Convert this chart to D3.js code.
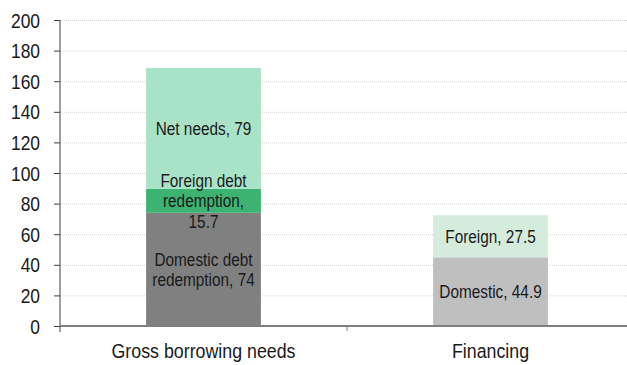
<!DOCTYPE html>
<html>
<head>
<meta charset="utf-8">
<script src="https://cdn.jsdelivr.net/npm/d3@7"></script>
<style>
  body { margin: 0; background: #fff; }
  svg text { font-family: "Liberation Sans", Arial, sans-serif; fill: #1a1a1a; }
</style>
</head>
<body>
<script>
// categories and stacked segments (bottom to top)
var categories = ["Gross borrowing needs", "Financing"];
var grossValues = [74, 15.7, 79];
var grossLabels = [["Domestic debt", "redemption, 74"], ["Foreign debt", "redemption,", "15.7"], ["Net needs, 79"]];
var grossColors = ["#808080", "#3cb371", "#a8e2c7"];
var finValues = [44.9, 27.5];
var finLabels = [["Domestic, 44.9"], ["Foreign, 27.5"]];
var finColors = ["#bfbfbf", "#d5ecdd"];
var yTicks = [0, 20, 40, 60, 80, 100, 120, 140, 160, 180, 200];

var width = 627, height = 365;
var margin = {top: 20, left: 60, bottom: 39};

var svg = d3.select("body").append("svg")
            .attr("width", width)
            .attr("height", height);

var y = d3.scaleLinear().domain([0, 200]).range([height - margin.bottom, margin.top]);
var x = d3.scaleBand().domain(categories).range([margin.left, 634])
          .paddingInner(0.6).paddingOuter(0.3);

// squeeze text horizontally to mimic the narrow font of the original
function narrow(sel, cx, cy, k){
  sel.attr("transform", "translate(" + cx + "," + cy + ") scale(" + k + ",1)");
}

// gridlines
svg.append("g").selectAll("line")
   .data(yTicks.slice(1))
   .enter().append("line")
     .attr("x1", margin.left).attr("x2", width)
     .attr("y1", function(d){ return y(d) + 0.5; })
     .attr("y2", function(d){ return y(d) + 0.5; })
     .attr("stroke", "#d4d4d4")
     .attr("stroke-dasharray", "1,1");

// build stacked segments
var segs = [];
function addStack(cat, vals, labels, colors){
  var base = 0;
  vals.forEach(function(v, i){
    segs.push({cat: cat, y0: base, y1: base + v, label: labels[i], color: colors[i]});
    base += v;
  });
}
addStack(categories[0], grossValues, grossLabels, grossColors);
addStack(categories[1], finValues, finLabels, finColors);

svg.append("g").selectAll("rect")
   .data(segs)
   .enter().append("rect")
     .attr("x", function(d){ return x(d.cat); })
     .attr("width", x.bandwidth())
     .attr("y", function(d){ return y(d.y1); })
     .attr("height", function(d){ return y(d.y0) - y(d.y1); })
     .attr("fill", function(d){ return d.color; });

// segment labels
var lh = 20.5;
svg.append("g").selectAll("text")
   .data(segs)
   .enter().append("text")
     .attr("text-anchor", "middle")
     .attr("font-size", "18.5px")
     .each(function(d){
        var cy = (y(d.y0) + y(d.y1)) / 2;
        var n = d.label.length;
        var t = d3.select(this);
        narrow(t, x(d.cat) + x.bandwidth() / 2, cy, 0.83);
        d.label.forEach(function(s, i){
          t.append("tspan")
           .attr("x", 0)
           .attr("y", (i - (n - 1) / 2) * lh + 6.5)
           .text(s);
        });
     });

// y axis
var yAxis = svg.append("g")
   .attr("transform", "translate(" + margin.left + ",0)")
   .call(d3.axisLeft(y).tickValues(yTicks).tickSize(6).tickPadding(0));
yAxis.select(".domain").attr("stroke", "#404040").attr("d", "M0," + y(200) + "V" + (y(0) + 6));
yAxis.selectAll(".tick line").attr("stroke", "#404040");
yAxis.selectAll(".tick text")
     .attr("font-size", "20px").attr("font-family", null)
     .attr("x", 0).attr("dy", "0.35em")
     .attr("transform", "translate(-20,0) scale(0.87,1)");

// x axis
var xg = svg.append("g").attr("transform", "translate(0," + y(0) + ")");
xg.append("line").attr("x1", margin.left).attr("x2", width)
  .attr("stroke", "#7f7f7f").attr("stroke-width", 2);
xg.selectAll(".sep")
  .data([x(categories[1]) - x.step() * x.paddingInner() / 2])
  .enter().append("line")
    .attr("x1", function(d){ return d; }).attr("x2", function(d){ return d; })
    .attr("y1", 0).attr("y2", 5)
    .attr("stroke", "#7f7f7f");
xg.selectAll(".cat")
  .data(categories)
  .enter().append("text")
    .attr("text-anchor", "middle")
    .attr("font-size", "20px")
    .each(function(d){ narrow(d3.select(this), x(d) + x.bandwidth() / 2, 32, 0.89); })
    .text(function(d){ return d; });
</script>
</body>
</html>
